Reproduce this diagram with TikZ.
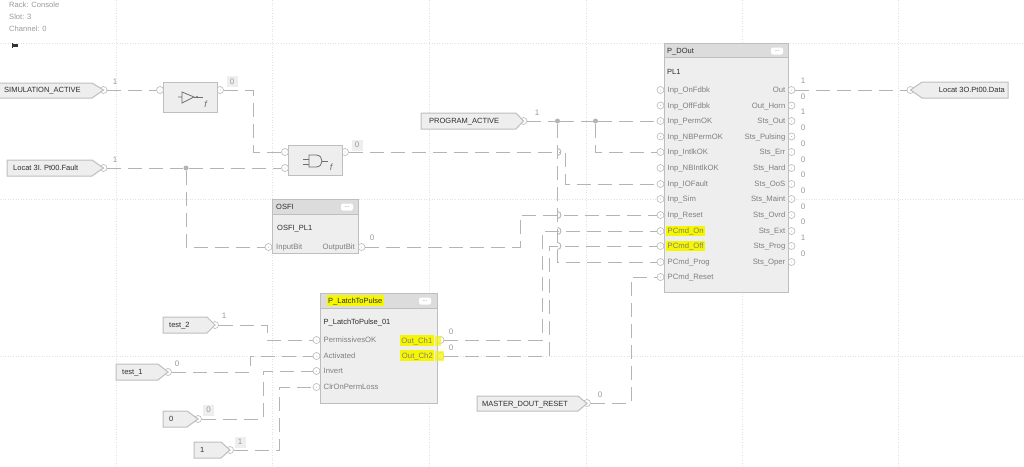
\documentclass[tikz,border=0pt]{standalone}
\usepackage{fontspec}
\setmainfont{Liberation Sans}
\definecolor{wirec}{HTML}{B4B4B4}
\definecolor{edgec}{HTML}{BEBEBE}
\definecolor{bodyc}{HTML}{EEEEEE}
\definecolor{headc}{HTML}{DCDCDC}
\definecolor{gridc}{HTML}{E2E2E2}
\definecolor{pintxt}{HTML}{7F7F7F}
\definecolor{valtxt}{HTML}{9A9A9A}
\definecolor{darktxt}{HTML}{2E2E2E}
\definecolor{hl}{HTML}{F6F600}
\definecolor{iconc}{HTML}{6E6E6E}
\tikzset{
 wire/.style={draw=wirec,line width=0.9pt,dash pattern=on 14pt off 7pt},
 gridline/.style={draw=gridc,line width=0.6pt,dotted},
 pinsty/.style={circle,draw=edgec,fill=white,line width=0.7pt,minimum size=7pt,inner sep=0pt},
 blocksty/.style={draw=edgec,fill=bodyc,line width=1pt,rectangle,inner sep=0pt},
 headsty/.style={draw=edgec,fill=headc,line width=1pt,rectangle,inner sep=0pt},
 tagsty/.style={draw=edgec,fill=bodyc,line width=1pt,line join=miter},
 pintext/.style={text=pintxt,font=\fontsize{7.7}{9}\selectfont,inner sep=0pt,text height=5.5pt,text depth=0.3pt},
 darktext/.style={text=darktxt,font=\fontsize{7.5}{9}\selectfont,inner sep=0pt,text height=5.5pt,text depth=0.3pt},
 valtext/.style={text=valtxt,font=\fontsize{8}{9}\selectfont,inner sep=0pt},
 valbox/.style={valtext,fill=bodyc,minimum width=11pt,minimum height=11pt},
 infotext/.style={text=valtxt,font=\fontsize{7.6}{9}\selectfont,inner sep=0pt,anchor=west},
 junction/.style={circle,fill=wirec,minimum size=5pt,inner sep=0pt},
 more/.style={rounded corners=2pt,fill=white,minimum width=12pt,minimum height=7pt,inner sep=0pt,text=pintxt,font=\fontsize{6}{6}\selectfont},
 hilite/.style={fill=hl,inner xsep=1.5pt,inner ysep=2.5pt},
}
\newcommand{\pinat}[3]{\node[pinsty] (#1) at (#2,#3) {}; \fill[wirec] (#1.center) circle (0.5pt);}
\begin{document}
\begin{tikzpicture}[x=1pt,y=-1pt]
\useasboundingbox (0,0) rectangle (1024,466);
% grid
\foreach \gx in {116,272,429,586,742,898}{\draw[gridline] (\gx,0) -- (\gx,466);}
\foreach \gy in {43,199,356}{\draw[gridline] (0,\gy) -- (1024,\gy);}
% info text
\node[infotext] (rack) at (9,5) {Rack: Console};
\node[infotext] (slot) at (9,17) {Slot: 3};
\node[infotext] (chan) at (9,29) {Channel: 0};
\fill[black!80] (12,43) rectangle (13,48);
\fill[black!80] (13,43.5) rectangle (17.5,47);
% pins
\pinat{simp}{103.5}{90}
\pinat{faultp}{103.5}{168}
\pinat{progp}{523.5}{121}
\pinat{t2p}{215}{325}
\pinat{t1p}{168}{372}
\pinat{zerop}{198}{419}
\pinat{onep}{230}{450}
\pinat{mastp}{587}{403}
\pinat{outtagp}{910.5}{90}
\pinat{notin}{160}{90}
\pinat{notout}{220}{90}
\pinat{andina}{285}{152}
\pinat{andinb}{285}{168}
\pinat{andout}{345}{152}
\pinat{osfiin}{268.5}{247}
\pinat{osfiout}{361.5}{247}
\foreach \n/\y in {onf/90,off/105.5,perm/121,nbperm/136.5,intlk/152,nbintlk/168,iofault/184,sim/199,reset/215,cmdon/231,cmdoff/246,cmdprog/262,cmdreset/277}{
 \pinat{d\n}{660.5}{\y}}
\foreach \n/\y in {out/90,horn/105.5,stsout/121,pulsing/136.5,err/152,hard/168,oos/184,maint/199,ovrd/215,ext/231,prog/246,oper/262}{
 \pinat{q\n}{791.5}{\y}}
\foreach \n/\y in {perm/340,act/356,inv/371,clr/387}{\pinat{lp\n}{316.5}{\y}}
\pinat{lpch1}{440.5}{340}
\pinat{lpch2}{440.5}{356}
% junctions
\node[junction] (ja) at (186,168) {};
\node[junction] (jb) at (557.5,121) {};
\node[junction] (jc) at (595.5,121) {};
% wires
\draw[wire] (simp.east) -- (notin.west);
\draw[wire] (notout.east) -- (253,90) -- (253,152) -- (andina.west);
\draw[wire] (faultp.east) -- (ja.west);
\draw[wire] (ja.east) -- (andinb.west);
\draw[wire] (ja.south) -- (186,247) -- (osfiin.west);
\draw[wire] (andout.east) -- (560,152);
\draw[wire] (565.5,153) -- (565.5,184) -- (diofault.west);
\draw[wire] (osfiout.east) -- (520,247) -- (520,215) -- (dreset.west);
\draw[wire] (progp.east) -- (jb.west);
\draw[wire] (jb.east) -- (jc.west);
\draw[wire] (jc.east) -- (dperm.west);
\draw[wire] (jc.south) -- (595.5,152) -- (dintlk.west);
\draw[wire] (jb.south) -- (557.5,262) -- (dcmdprog.west);
\foreach \hy in {152,215,231,246}{\draw[wirec,line width=0.9pt] (557.5,\hy-3.5) .. controls (562,\hy-3.5) and (562,\hy+3.5) .. (557.5,\hy+3.5);}
\draw[wire] (lpch1.east) -- (542,340) -- (542,231) -- (dcmdon.west);
\draw[wire] (lpch2.east) -- (549,356) -- (549,246) -- (dcmdoff.west);
\draw[wire] (mastp.east) -- (631,403) -- (631,277) -- (dcmdreset.west);
\draw[wire] (qout.east) -- (outtagp.west);
\draw[wire] (t2p.east) -- (267,325) -- (267,340) -- (lpperm.west);
\draw[wire] (t1p.east) -- (250,372) -- (250,356) -- (lpact.west);
\draw[wire] (zerop.east) -- (263,419) -- (263,371) -- (lpinv.west);
\draw[wire] (onep.east) -- (279,450) -- (279,387) -- (lpclr.west);
% tags
\draw[tagsty] (-2,83) -- (92,83) -- (103.5,90) -- (92,98) -- (-2,98) -- cycle;
\node[darktext,anchor=west] (simt) at (4,90) {SIMULATION\_ACTIVE};
\draw[tagsty] (7,160) -- (92,160) -- (103.5,168) -- (92,176) -- (7,176) -- cycle;
\node[darktext,anchor=west] (faultt) at (13,168) {Locat 3I. Pt00.Fault};
\draw[tagsty] (421,113) -- (516,113) -- (523.5,121) -- (516,129) -- (421,129) -- cycle;
\node[darktext,anchor=west] (progt) at (429,121) {PROGRAM\_ACTIVE};
\draw[tagsty] (163,317) -- (207,317) -- (215,325) -- (207,333) -- (163,333) -- cycle;
\node[darktext,anchor=west] (t2t) at (169,325) {test\_2};
\draw[tagsty] (116,364) -- (158,364) -- (168,372) -- (158,380) -- (116,380) -- cycle;
\node[darktext,anchor=west] (t1t) at (122,372) {test\_1};
\draw[tagsty] (163,411) -- (187,411) -- (198,419) -- (187,427) -- (163,427) -- cycle;
\node[darktext,anchor=west] (zerot) at (169,419) {0};
\draw[tagsty] (194,442) -- (221,442) -- (230,450) -- (221,458) -- (194,458) -- cycle;
\node[darktext,anchor=west] (onet) at (200,450) {1};
\draw[tagsty] (477,396) -- (578,396) -- (587,403.5) -- (578,411) -- (477,411) -- cycle;
\node[darktext,anchor=west] (mastt) at (482,403.5) {MASTER\_DOUT\_RESET};
\draw[tagsty] (1008,82) -- (922,82) -- (910.5,90) -- (922,98) -- (1008,98) -- cycle;
\node[darktext,anchor=east] (outt) at (1005,90) {Locat 3O.Pt00.Data};
% gate blocks
\node[blocksty,minimum width=54pt,minimum height=30pt] (notb) at (190,97) {};
\node[blocksty,minimum width=54pt,minimum height=30pt] (andb) at (315,160) {};
% inverter icon
\draw[iconc,line width=0.8pt] (178,97) -- (182,97) (182,92) -- (182,103) -- (194,97) -- cycle;
\draw[iconc,line width=0.8pt] (194,97) -- (203,97);
\fill[iconc] (197,97) circle (1.2pt);
\node[text=iconc,inner sep=0pt,font=\fontsize{9}{9}\selectfont\itshape] (notf) at (205.5,104.5) {f};
% and icon
\draw[iconc,line width=0.8pt] (309,155) -- (316,155) .. controls (324,155) and (324,167) .. (316,167) -- (309,167) -- cycle;
\draw[iconc,line width=0.8pt] (303,159) -- (309,159) (303,164) -- (309,164) (322,161) -- (328,161);
\node[text=iconc,inner sep=0pt,font=\fontsize{9}{9}\selectfont\itshape] (andf) at (331,167) {f};
% function blocks
\node[blocksty,minimum width=86pt,minimum height=54pt] (osfib) at (315,226) {};
\node[headsty,minimum width=86pt,minimum height=15pt] (osfih) at (315,206.5) {};
\node[blocksty,minimum width=124pt,minimum height=249pt] (doutb) at (726,167.5) {};
\node[headsty,minimum width=124pt,minimum height=14pt] (douth) at (726,50) {};
\node[blocksty,minimum width=117pt,minimum height=110pt] (lpb) at (378.5,348) {};
\node[headsty,minimum width=117pt,minimum height=15pt] (lph) at (378.5,300.5) {};
\node[more] (m1) at (347,207) {...};
\node[more] (m2) at (777,51) {...};
\node[more] (m3) at (425,301) {...};
% block texts
\node[darktext,anchor=west] (osfit) at (276,207) {OSFI};
\node[darktext,anchor=west] (osfii) at (277,228) {OSFI\_PL1};
\node[pintext,anchor=west] (osfil) at (276,247) {InputBit};
\node[pintext,anchor=east] (osfir) at (355,247) {OutputBit};
\node[darktext,anchor=west] (doutt) at (667,50.5) {P\_DOut};
\node[darktext,anchor=west] (douti) at (667,71.5) {PL1};
\foreach \n/\y/\t in {a/90/Inp\_OnFdbk,b/105.5/Inp\_OffFdbk,c/121/Inp\_PermOK,d/136.5/Inp\_NBPermOK,e/152/Inp\_IntlkOK,f/168/Inp\_NBIntlkOK,g/184/Inp\_IOFault,h/199/Inp\_Sim,i/215/Inp\_Reset,l/262/PCmd\_Prog,m/277/PCmd\_Reset}{
 \node[pintext,anchor=west] (il\n) at (667.5,\y) {\t};}
\node[pintext,anchor=west,hilite] (ilj) at (666,231) {PCmd\_On};
\node[pintext,anchor=west,hilite] (ilk) at (666,246) {PCmd\_Off};
\foreach \n/\y/\t in {a/90/Out,b/105.5/Out\_Horn,c/121/Sts\_Out,d/136.5/Sts\_Pulsing,e/152/Sts\_Err,f/168/Sts\_Hard,g/184/Sts\_OoS,h/199/Sts\_Maint,i/215/Sts\_Ovrd,j/231/Sts\_Ext,k/246/Sts\_Prog,l/262/Sts\_Oper}{
 \node[pintext,anchor=east] (ol\n) at (785.5,\y) {\t};}
\node[darktext,anchor=west,hilite] (lpt) at (326.5,300.5) {P\_LatchToPulse};
\node[darktext,anchor=west] (lpi) at (323.5,322) {P\_LatchToPulse\_01};
\node[pintext,anchor=west] (lpa) at (323.5,340) {PermissivesOK};
\node[pintext,anchor=west] (lpc) at (323.5,356) {Activated};
\node[pintext,anchor=west] (lpd) at (323.5,371) {Invert};
\node[pintext,anchor=west] (lpe) at (323.5,387) {ClrOnPermLoss};
\fill[hl,opacity=0.7] (435,336) rectangle (441,345.5);
\fill[hl,opacity=0.7] (435,351) rectangle (443.5,361);
\node[pintext,anchor=east,hilite] (lpo1) at (434,340.5) {Out\_Ch1};
\node[pintext,anchor=east,hilite] (lpo2) at (434.5,355.5) {Out\_Ch2};
% values
\node[valtext] (v1) at (115,81.5) {1};
\node[valtext] (v2) at (115,160) {1};
\node[valbox] (v3) at (232,81.5) {0};
\node[valbox] (v4) at (357,145) {0};
\node[valtext] (v5) at (372,238) {0};
\node[valtext] (v6) at (537,112.5) {1};
\node[valtext] (v7) at (224,316) {1};
\node[valtext] (v8) at (177,364) {0};
\node[valbox] (v9) at (208.5,410) {0};
\node[valbox] (v10) at (240,442) {1};
\node[valtext] (v11) at (451,332) {0};
\node[valtext] (v12) at (451,347.5) {0};
\node[valtext] (v13) at (600,394.5) {0};
\foreach \n/\y/\t in {a/81/1,b/96.5/0,c/112/1,d/128/0,e/144/0,f/160/0,g/175/0,h/191/0,i/207/0,j/222/0,k/238/1,l/253.5/0}{
 \node[valtext] (qv\n) at (803,\y) {\t};}
\end{tikzpicture}
\end{document}
